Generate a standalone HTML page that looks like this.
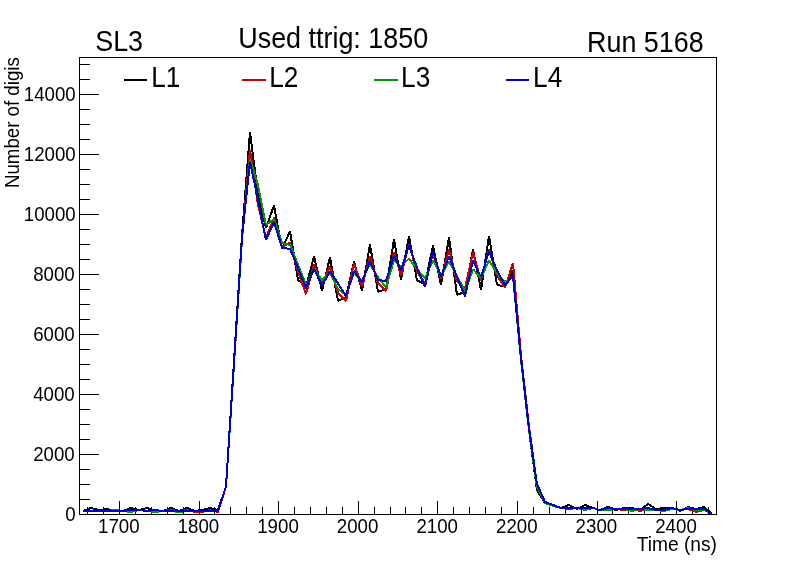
<!DOCTYPE html>
<html><head><meta charset="utf-8"><title>Used ttrig: 1850</title>
<style>
html,body{margin:0;padding:0;background:#fff;}
body{width:796px;height:572px;overflow:hidden;position:relative;font-family:"Liberation Sans",sans-serif;}
</style></head><body>
<svg width="796" height="572" viewBox="0 0 796 572" style="position:absolute;left:0;top:0;will-change:transform">
<rect x="0" y="0" width="796" height="572" fill="#fff"/>
<polyline points="83.0,511.0 91.0,508.0 99.0,510.0 107.0,509.0 115.0,511.0 123.0,511.0 131.0,508.0 139.0,510.0 147.0,508.0 155.0,511.0 163.0,511.0 171.0,508.0 179.0,511.0 187.0,508.0 195.0,511.0 202.0,510.0 210.0,508.0 218.0,510.0 226.0,486.5 234.0,361.0 242.0,235.5 250.0,132.0 258.0,195.0 266.0,228.0 274.0,205.5 282.0,249.0 290.0,231.3 298.0,279.7 306.0,287.0 314.0,256.4 322.0,290.5 330.0,257.5 338.0,301.0 346.0,297.0 354.0,261.5 362.0,290.5 370.0,244.6 378.0,292.0 386.0,289.0 394.0,239.4 401.0,279.9 409.0,236.3 417.0,280.4 425.0,284.0 433.0,245.7 441.0,284.8 449.0,237.6 457.0,294.9 465.0,291.7 473.0,249.6 481.0,289.9 489.0,235.9 497.0,284.8 505.0,286.7 513.0,270.5 521.0,359.5 529.0,430.5 537.0,490.3 545.0,503.0 553.0,505.0 561.0,508.0 569.0,505.0 577.0,509.0 585.0,505.0 593.0,508.0 600.0,510.0 608.0,507.0 616.0,510.0 624.0,508.0 632.0,508.0 640.0,510.0 648.0,504.0 656.0,509.0 664.0,508.0 672.0,508.0 680.0,511.0 688.0,507.0 696.0,509.0 704.0,507.0 712.0,514.0" fill="none" stroke="#000000" stroke-width="2" stroke-linejoin="bevel" shape-rendering="crispEdges"/>
<g stroke="#000" stroke-width="1" shape-rendering="crispEdges" fill="none">
<rect x="79.5" y="57.5" width="637" height="457"/>
<line x1="87.5" y1="514.5" x2="87.5" y2="506.6"/>
<line x1="103.5" y1="514.5" x2="103.5" y2="506.6"/>
<line x1="119.5" y1="514.5" x2="119.5" y2="500.8"/>
<line x1="135.5" y1="514.5" x2="135.5" y2="506.6"/>
<line x1="151.5" y1="514.5" x2="151.5" y2="506.6"/>
<line x1="167.5" y1="514.5" x2="167.5" y2="506.6"/>
<line x1="183.5" y1="514.5" x2="183.5" y2="506.6"/>
<line x1="199.5" y1="514.5" x2="199.5" y2="500.8"/>
<line x1="214.5" y1="514.5" x2="214.5" y2="506.6"/>
<line x1="230.5" y1="514.5" x2="230.5" y2="506.6"/>
<line x1="246.5" y1="514.5" x2="246.5" y2="506.6"/>
<line x1="262.5" y1="514.5" x2="262.5" y2="506.6"/>
<line x1="278.5" y1="514.5" x2="278.5" y2="500.8"/>
<line x1="294.5" y1="514.5" x2="294.5" y2="506.6"/>
<line x1="310.5" y1="514.5" x2="310.5" y2="506.6"/>
<line x1="326.5" y1="514.5" x2="326.5" y2="506.6"/>
<line x1="342.5" y1="514.5" x2="342.5" y2="506.6"/>
<line x1="358.5" y1="514.5" x2="358.5" y2="500.8"/>
<line x1="374.5" y1="514.5" x2="374.5" y2="506.6"/>
<line x1="390.5" y1="514.5" x2="390.5" y2="506.6"/>
<line x1="405.5" y1="514.5" x2="405.5" y2="506.6"/>
<line x1="421.5" y1="514.5" x2="421.5" y2="506.6"/>
<line x1="437.5" y1="514.5" x2="437.5" y2="500.8"/>
<line x1="453.5" y1="514.5" x2="453.5" y2="506.6"/>
<line x1="469.5" y1="514.5" x2="469.5" y2="506.6"/>
<line x1="485.5" y1="514.5" x2="485.5" y2="506.6"/>
<line x1="501.5" y1="514.5" x2="501.5" y2="506.6"/>
<line x1="517.5" y1="514.5" x2="517.5" y2="500.8"/>
<line x1="533.5" y1="514.5" x2="533.5" y2="506.6"/>
<line x1="549.5" y1="514.5" x2="549.5" y2="506.6"/>
<line x1="565.5" y1="514.5" x2="565.5" y2="506.6"/>
<line x1="581.5" y1="514.5" x2="581.5" y2="506.6"/>
<line x1="597.5" y1="514.5" x2="597.5" y2="500.8"/>
<line x1="612.5" y1="514.5" x2="612.5" y2="506.6"/>
<line x1="628.5" y1="514.5" x2="628.5" y2="506.6"/>
<line x1="644.5" y1="514.5" x2="644.5" y2="506.6"/>
<line x1="660.5" y1="514.5" x2="660.5" y2="506.6"/>
<line x1="676.5" y1="514.5" x2="676.5" y2="500.8"/>
<line x1="692.5" y1="514.5" x2="692.5" y2="506.6"/>
<line x1="708.5" y1="514.5" x2="708.5" y2="506.6"/>
<line x1="79.5" y1="514.5" x2="98.5" y2="514.5"/>
<line x1="79.5" y1="499.5" x2="89.5" y2="499.5"/>
<line x1="79.5" y1="484.5" x2="89.5" y2="484.5"/>
<line x1="79.5" y1="469.5" x2="89.5" y2="469.5"/>
<line x1="79.5" y1="454.5" x2="98.5" y2="454.5"/>
<line x1="79.5" y1="439.5" x2="89.5" y2="439.5"/>
<line x1="79.5" y1="424.5" x2="89.5" y2="424.5"/>
<line x1="79.5" y1="409.5" x2="89.5" y2="409.5"/>
<line x1="79.5" y1="394.5" x2="98.5" y2="394.5"/>
<line x1="79.5" y1="379.5" x2="89.5" y2="379.5"/>
<line x1="79.5" y1="364.5" x2="89.5" y2="364.5"/>
<line x1="79.5" y1="349.5" x2="89.5" y2="349.5"/>
<line x1="79.5" y1="334.5" x2="98.5" y2="334.5"/>
<line x1="79.5" y1="319.5" x2="89.5" y2="319.5"/>
<line x1="79.5" y1="304.5" x2="89.5" y2="304.5"/>
<line x1="79.5" y1="289.5" x2="89.5" y2="289.5"/>
<line x1="79.5" y1="274.5" x2="98.5" y2="274.5"/>
<line x1="79.5" y1="259.5" x2="89.5" y2="259.5"/>
<line x1="79.5" y1="244.5" x2="89.5" y2="244.5"/>
<line x1="79.5" y1="229.5" x2="89.5" y2="229.5"/>
<line x1="79.5" y1="214.5" x2="98.5" y2="214.5"/>
<line x1="79.5" y1="199.5" x2="89.5" y2="199.5"/>
<line x1="79.5" y1="184.5" x2="89.5" y2="184.5"/>
<line x1="79.5" y1="169.5" x2="89.5" y2="169.5"/>
<line x1="79.5" y1="154.5" x2="98.5" y2="154.5"/>
<line x1="79.5" y1="139.5" x2="89.5" y2="139.5"/>
<line x1="79.5" y1="124.5" x2="89.5" y2="124.5"/>
<line x1="79.5" y1="109.5" x2="89.5" y2="109.5"/>
<line x1="79.5" y1="94.5" x2="98.5" y2="94.5"/>
<line x1="79.5" y1="79.5" x2="89.5" y2="79.5"/>
<line x1="79.5" y1="64.5" x2="89.5" y2="64.5"/>
</g>
<polyline points="83.0,511.0 91.0,511.0 99.0,511.0 107.0,511.0 115.0,511.0 123.0,511.0 131.0,510.0 139.0,510.0 147.0,511.0 155.0,511.0 163.0,511.0 171.0,510.0 179.0,511.0 187.0,510.0 195.0,512.0 202.0,512.0 210.0,510.0 218.0,512.0 226.0,486.5 234.0,364.5 242.0,239.5 250.0,150.0 258.0,205.0 266.0,238.0 274.0,217.7 282.0,247.0 290.0,242.6 298.0,271.6 306.0,294.2 314.0,264.6 322.0,284.5 330.0,265.9 338.0,293.0 346.0,301.0 354.0,263.4 362.0,286.7 370.0,256.4 378.0,283.0 386.0,291.0 394.0,251.8 401.0,275.5 409.0,244.2 417.0,271.6 425.0,283.0 433.0,254.0 441.0,279.0 449.0,249.0 457.0,281.6 465.0,288.0 473.0,252.7 481.0,280.4 489.0,249.2 497.0,275.4 505.0,287.5 513.0,263.0 521.0,355.5 529.0,426.0 537.0,485.0 545.0,502.0 553.0,505.0 561.0,508.0 569.0,509.0 577.0,508.0 585.0,508.0 593.0,508.0 600.0,510.0 608.0,508.0 616.0,509.0 624.0,510.0 632.0,509.0 640.0,511.0 648.0,509.0 656.0,510.0 664.0,510.0 672.0,509.0 680.0,510.0 688.0,509.0 696.0,512.0 704.0,510.0 712.0,514.0" fill="none" stroke="#cc0000" stroke-width="2" stroke-linejoin="bevel" shape-rendering="crispEdges"/>
<polyline points="83.0,511.0 91.0,511.0 99.0,511.0 107.0,511.0 115.0,510.0 123.0,511.0 131.0,512.0 139.0,510.0 147.0,511.0 155.0,512.0 163.0,511.0 171.0,511.0 179.0,512.0 187.0,511.0 195.0,511.0 202.0,511.0 210.0,511.0 218.0,511.0 226.0,486.5 234.0,364.0 242.0,239.0 250.0,159.0 258.0,185.0 266.0,225.0 274.0,219.0 282.0,243.0 290.0,245.0 298.0,264.6 306.0,285.0 314.0,269.0 322.0,280.0 330.0,272.8 338.0,289.0 346.0,295.0 354.0,272.8 362.0,280.4 370.0,264.0 378.0,277.5 386.0,287.3 394.0,260.0 401.0,266.5 409.0,258.6 417.0,269.0 425.0,278.5 433.0,260.0 441.0,276.0 449.0,261.5 457.0,276.0 465.0,291.2 473.0,269.3 481.0,278.0 489.0,260.5 497.0,273.5 505.0,282.0 513.0,277.0 521.0,360.0 529.0,430.5 537.0,487.0 545.0,503.0 553.0,506.0 561.0,508.0 569.0,508.0 577.0,508.0 585.0,510.0 593.0,508.0 600.0,510.0 608.0,510.0 616.0,509.0 624.0,509.0 632.0,511.0 640.0,509.0 648.0,510.0 656.0,510.0 664.0,511.0 672.0,509.0 680.0,510.0 688.0,508.0 696.0,510.0 704.0,510.0 712.0,514.0" fill="none" stroke="#009900" stroke-width="2" stroke-linejoin="bevel" shape-rendering="crispEdges"/>
<polyline points="83.0,511.0 91.0,511.0 99.0,511.0 107.0,511.0 115.0,511.0 123.0,511.0 131.0,510.0 139.0,510.0 147.0,511.0 155.0,510.0 163.0,511.0 171.0,511.0 179.0,511.0 187.0,511.0 195.0,511.0 202.0,511.0 210.0,511.0 218.0,511.0 226.0,486.5 234.0,362.0 242.0,237.0 250.0,162.0 258.0,200.0 266.0,240.0 274.0,222.0 282.0,247.6 290.0,249.0 298.0,267.8 306.0,288.3 314.0,269.0 322.0,285.5 330.0,271.6 338.0,283.5 346.0,296.0 354.0,271.0 362.0,282.3 370.0,261.2 378.0,280.0 386.0,281.0 394.0,256.0 401.0,270.3 409.0,245.2 417.0,267.8 425.0,286.7 433.0,251.6 441.0,276.6 449.0,256.0 457.0,277.0 465.0,296.3 473.0,260.5 481.0,277.0 489.0,251.2 497.0,270.3 505.0,285.4 513.0,275.5 521.0,358.0 529.0,428.6 537.0,484.0 545.0,502.0 553.0,505.0 561.0,508.0 569.0,508.0 577.0,508.0 585.0,508.0 593.0,508.0 600.0,510.0 608.0,508.0 616.0,509.0 624.0,509.0 632.0,509.0 640.0,509.0 648.0,508.0 656.0,510.0 664.0,510.0 672.0,508.0 680.0,510.0 688.0,509.0 696.0,509.0 704.0,509.0 712.0,514.0" fill="none" stroke="#0000cc" stroke-width="2" stroke-linejoin="bevel" shape-rendering="crispEdges"/>
<g shape-rendering="crispEdges" stroke-width="2">
<line x1="124" y1="80" x2="147" y2="80" stroke="#000000"/>
<line x1="242" y1="80" x2="266" y2="80" stroke="#cc0000"/>
<line x1="374" y1="80" x2="398" y2="80" stroke="#009900"/>
<line x1="506" y1="80" x2="529" y2="80" stroke="#0000cc"/>
</g>
<g font-family="'Liberation Sans', sans-serif" fill="#000">
<text transform="translate(118.80,533.20) scale(1,1.1)" font-size="18.7" text-anchor="middle">1700</text>
<text transform="translate(198.40,533.20) scale(1,1.1)" font-size="18.7" text-anchor="middle">1800</text>
<text transform="translate(278.00,533.20) scale(1,1.1)" font-size="18.7" text-anchor="middle">1900</text>
<text transform="translate(357.60,533.20) scale(1,1.1)" font-size="18.7" text-anchor="middle">2000</text>
<text transform="translate(437.20,533.20) scale(1,1.1)" font-size="18.7" text-anchor="middle">2100</text>
<text transform="translate(516.80,533.20) scale(1,1.1)" font-size="18.7" text-anchor="middle">2200</text>
<text transform="translate(596.40,533.20) scale(1,1.1)" font-size="18.7" text-anchor="middle">2300</text>
<text transform="translate(676.00,533.20) scale(1,1.1)" font-size="18.7" text-anchor="middle">2400</text>
<text transform="translate(75.70,521.00) scale(1,1.1)" font-size="18.7" text-anchor="end">0</text>
<text transform="translate(74.70,461.00) scale(1,1.1)" font-size="18.7" text-anchor="end">2000</text>
<text transform="translate(74.70,401.00) scale(1,1.1)" font-size="18.7" text-anchor="end">4000</text>
<text transform="translate(74.70,341.00) scale(1,1.1)" font-size="18.7" text-anchor="end">6000</text>
<text transform="translate(74.70,281.00) scale(1,1.1)" font-size="18.7" text-anchor="end">8000</text>
<text transform="translate(75.70,221.00) scale(1,1.1)" font-size="18.7" text-anchor="end">10000</text>
<text transform="translate(75.70,161.00) scale(1,1.1)" font-size="18.7" text-anchor="end">12000</text>
<text transform="translate(75.70,101.00) scale(1,1.1)" font-size="18.7" text-anchor="end">14000</text>
<text transform="translate(717.00,550.90) scale(1.026,1.08)" font-size="18.7" text-anchor="end">Time (ns)</text>
<text transform="translate(18.90,57.20) rotate(-90) scale(1,1.1)" font-size="18.7" text-anchor="end">Number of digis</text>
<text transform="translate(95.20,50.90) scale(1,1.1)" font-size="26.9">SL3</text>
<text transform="translate(333.20,47.60) scale(1,1.1)" font-size="26.9" text-anchor="middle">Used ttrig: 1850</text>
<text transform="translate(703.60,52.10) scale(1,1.085)" font-size="26.9" text-anchor="end">Run 5168</text>
<text transform="translate(151.20,86.60) scale(1,1.1)" font-size="26.2">L1</text>
<text transform="translate(269.20,86.60) scale(1,1.1)" font-size="26.2">L2</text>
<text transform="translate(401.10,86.60) scale(1,1.1)" font-size="26.2">L3</text>
<text transform="translate(533.10,86.60) scale(1,1.1)" font-size="26.2">L4</text>
</g>
</svg>
</body></html>
